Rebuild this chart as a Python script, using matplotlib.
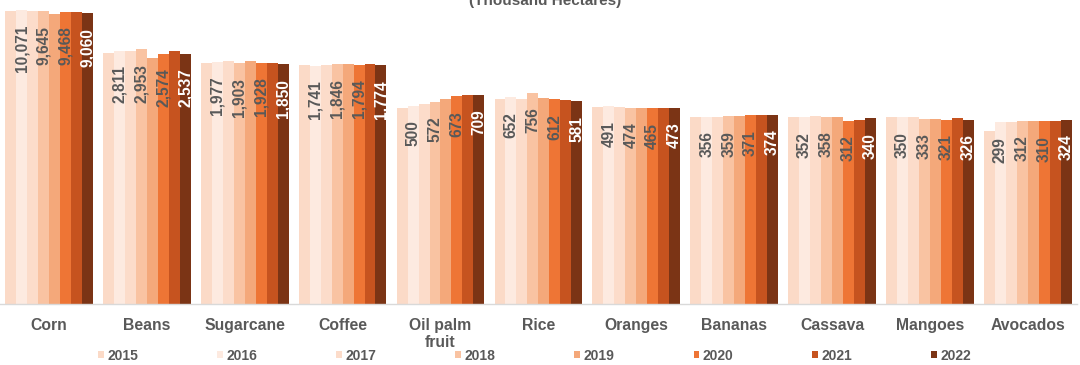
import matplotlib
matplotlib.use("Agg")
import matplotlib.pyplot as plt
from matplotlib.patches import Patch
import numpy as np

plt.rcParams['font.family'] = ['Liberation Sans', 'DejaVu Sans']

categories = ["Corn", "Beans", "Sugarcane", "Coffee", "Oil palm\nfruit", "Rice",
              "Oranges", "Bananas", "Cassava", "Mangoes", "Avocados"]
years = ["2015", "2016", "2017", "2018", "2019", "2020", "2021", "2022"]

y2015 = [9600, 2650, 1920, 1780, 475, 620, 485, 355, 352, 350, 230]
y2016 = [10071, 2811, 1977, 1741, 500, 652, 491, 356, 352, 350, 299]
y2017 = [9800, 2800, 2020, 1810, 535, 620, 480, 357, 362, 348, 300]
y2018 = [9645, 2953, 1903, 1846, 572, 756, 474, 359, 358, 333, 312]
y2019 = [8900, 2250, 2020, 1850, 620, 645, 470, 362, 352, 330, 312]
y2020 = [9468, 2574, 1928, 1794, 673, 612, 465, 371, 312, 321, 310]
y2021 = [9550, 2800, 1890, 1840, 700, 605, 468, 373, 318, 345, 312]
y2022 = [9060, 2537, 1850, 1774, 709, 581, 473, 374, 340, 326, 324]
series = [y2015, y2016, y2017, y2018, y2019, y2020, y2021, y2022]

colors = ["#FBDAC7", "#FDEAE0", "#FCDCCA", "#F9C3A2", "#F4A87A",
          "#EE7535", "#C6531F", "#7B3415"]
labeled = {1: "#595959", 3: "#595959", 5: "#595959", 7: "white"}

fig = plt.figure(figsize=(10.8, 3.65), dpi=100)
ax = fig.add_axes([0.0, 0.1658, 0.997, 0.8266])

x = np.arange(len(categories))
w = 0.112
for i, vals in enumerate(series):
    pos = x + (i - 3.5) * w
    bars = ax.bar(pos, vals, width=w, bottom=0, color=colors[i], linewidth=0,
                  label=years[i], zorder=2)
    if i in labeled:
        for b, v in zip(bars, vals):
            ax.annotate(f"{v:,}", xy=(b.get_x() + b.get_width() / 2, v),
                        xytext=(0, -10.5), textcoords="offset points",
                        rotation=90, ha="center", va="top",
                        fontsize=11.2, fontweight="bold", color=labeled[i],
                        zorder=3)

ax.set_yscale("log")
ax.set_ylim(1, 10 ** 4.1)
ax.set_xlim(-0.5, len(categories) - 0.5)
ax.set_yticks([])
ax.minorticks_off()
ax.yaxis.set_visible(False)
for s in ["top", "left", "right"]:
    ax.spines[s].set_visible(False)
ax.spines["bottom"].set_color("#D9D9D9")
ax.spines["bottom"].set_linewidth(1.0)
ax.set_xticks(x)
ax.set_xticklabels(categories, fontsize=11.3, fontweight="bold", color="#595959",
                   linespacing=1.1)
ax.tick_params(axis="x", length=0, pad=10)
ax.patch.set_alpha(0)

handles = [Patch(facecolor=c, edgecolor="none") for c in colors]
leg = fig.legend(handles, years, loc="center", bbox_to_anchor=(0.495, 0.026),
                 ncol=8, frameon=False, fontsize=10, handlelength=0.4,
                 handleheight=0.4, handletextpad=0.25, columnspacing=5.7,
                 borderaxespad=0, borderpad=0)
for t in leg.get_texts():
    t.set_color("#595959")
    t.set_fontweight("bold")

fig.text(0.505, 1 - 5 / 365, "(Thousand Hectares)", ha="center", va="baseline",
         fontsize=11, fontweight="bold", color="#595959")

fig.savefig("out.png", dpi=100)
